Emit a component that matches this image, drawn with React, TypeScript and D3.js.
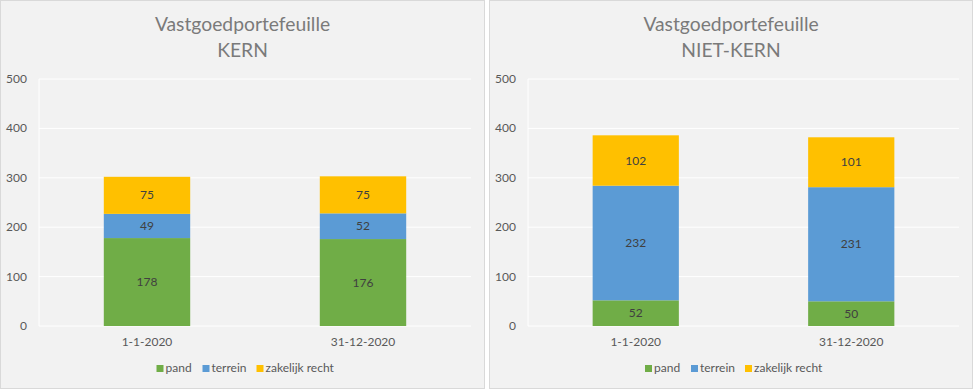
import React from 'react';
import * as d3 from 'd3';

// categories and series
const dates = ['1-1-2020', '31-12-2020'];
const seriesNames = ['pand', 'terrein', 'zakelijk recht'];
const seriesColors = ['#70ad47', '#5b9bd5', '#ffc000'];
const yTicks = [0, 100, 200, 300, 400, 500];

const kernPand = [178, 176];
const kernTerrein = [49, 52];
const kernZakelijk = [75, 75];

const nietKernPand = [52, 50];
const nietKernTerrein = [232, 231];
const nietKernZakelijk = [102, 101];

const FONT = 'Lato, "Open Sans", sans-serif';

function Panel({ x, width, subtitle, values }) {
  const left = x + 39;
  const right = x + width - 14;
  const top = 79;
  const bottom = 326;

  const xScale = d3.scaleBand().domain(dates).range([left, right]).paddingInner(0.6).paddingOuter(0.3);
  const yScale = d3.scaleLinear().domain([0, 500]).range([bottom, top]);

  const rows = dates.map((d, i) => {
    const r: any = { date: d };
    seriesNames.forEach((s, j) => (r[s] = values[j][i]));
    return r;
  });
  const stacked = d3.stack().keys(seriesNames)(rows);

  const cx = x + width / 2;
  const legendItems = [
    { name: 'pand', dx: -86 },
    { name: 'terrein', dx: -40 },
    { name: 'zakelijk recht', dx: 14 },
  ];

  return (
    <g>
      <rect x={x + 0.5} y={0.5} width={width - 1} height={388} fill="#f2f2f2" stroke="#d9d9d9" />
      <text x={cx} y={31} textAnchor="middle" fontFamily={FONT} fontSize={19.3} fill="#7a7a7a">
        Vastgoedportefeuille
      </text>
      <text x={cx} y={57} textAnchor="middle" fontFamily={FONT} fontSize={19.3} fill="#7a7a7a">
        {subtitle}
      </text>
      {yTicks.map((t) => (
        <g key={t}>
          <line x1={left} x2={right} y1={yScale(t)} y2={yScale(t)} stroke="#ffffff" strokeWidth={1} />
          <text
            x={left - 12}
            y={yScale(t) + 4}
            textAnchor="end"
            fontFamily={FONT}
            fontSize={12}
            fill="#595959"
          >
            {t}
          </text>
        </g>
      ))}
      <line x1={left} x2={left} y1={top} y2={bottom} stroke="#ffffff" />
      {stacked.map((layer, j) => (
        <g key={layer.key}>
          {layer.map((seg, i) => {
            const y0 = yScale(seg[0]);
            const y1 = yScale(seg[1]);
            const bx = xScale(dates[i]);
            return (
              <g key={i}>
                <rect x={bx} y={y1} width={xScale.bandwidth()} height={y0 - y1} fill={seriesColors[j]} />
                <text
                  x={bx + xScale.bandwidth() / 2}
                  y={(y0 + y1) / 2 + 4}
                  textAnchor="middle"
                  fontFamily={FONT}
                  fontSize={12}
                  fill="#404040"
                >
                  {seg[1] - seg[0]}
                </text>
              </g>
            );
          })}
        </g>
      ))}
      {dates.map((d) => (
        <text
          key={d}
          x={xScale(d) + xScale.bandwidth() / 2}
          y={346}
          textAnchor="middle"
          fontFamily={FONT}
          fontSize={12}
          fill="#595959"
        >
          {d}
        </text>
      ))}
      {legendItems.map((item, j) => (
        <g key={item.name}>
          <rect x={cx + item.dx} y={365} width={7} height={7} fill={seriesColors[j]} />
          <text x={cx + item.dx + 9} y={372} fontFamily={FONT} fontSize={12} fill="#595959">
            {item.name}
          </text>
        </g>
      ))}
    </g>
  );
}

export default function App() {
  return (
    <svg width={974} height={389} style={{ position: 'absolute', left: 0, top: 0, background: '#ffffff' }}>
      <Panel x={0} width={485} subtitle="KERN" values={[kernPand, kernTerrein, kernZakelijk]} />
      <Panel
        x={489}
        width={484}
        subtitle="NIET-KERN"
        values={[nietKernPand, nietKernTerrein, nietKernZakelijk]}
      />
    </svg>
  );
}
